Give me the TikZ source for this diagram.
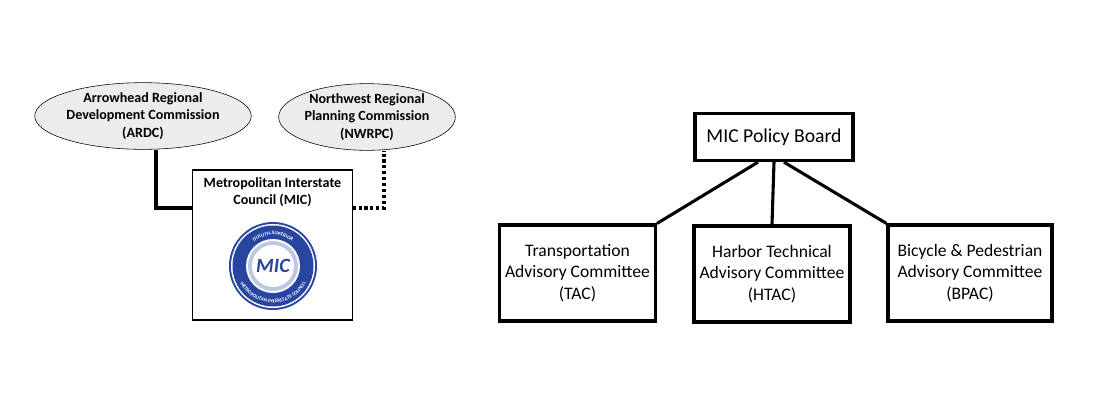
\documentclass[tikz,border=0pt]{standalone}
\usepackage{fontspec}
\setmainfont{Carlito}
\usetikzlibrary{positioning, shapes.geometric, decorations.text}

\definecolor{micblue}{RGB}{40,70,160}
\definecolor{ovalgray}{RGB}{236,236,236}

\begin{document}
\begin{tikzpicture}[x=0.025cm, y=-0.025cm,
    agency/.style={ellipse, draw, fill=ovalgray, minimum width=4.15cm, minimum height=1.45cm,
        inner sep=0, align=center, font=\fontsize{10}{12.5}\selectfont\bfseries},
    council/.style={draw, thick, minimum width=3.98cm, minimum height=3.75cm},
    board/.style={draw, line width=2.2pt, minimum width=3.95cm, minimum height=1.18cm,
        font=\fontsize{14}{16}\selectfont},
    cmte/.style={draw, line width=2.2pt, minimum height=2.4cm, align=center,
        font=\fontsize{12.5}{15.5}\selectfont},
    sealtext/.style={decorate, decoration={text along path, text align=center,
        text={|\fontsize{3.6}{4}\selectfont\bfseries\color{white}|#1}}},
    link/.style={line width=2.2pt}
]
\useasboundingbox (0,0) rectangle (1120,416);

%% Left: MIC and its two regional commissions
\node[agency] (ardc) at (143,116) {Arrowhead Regional\\Development Commission\\(ARDC)};
\node[agency] (nwrpc) at (367,117) {Northwest Regional\\Planning Commission\\(NWRPC)};
\node[council] (mic) at (272.5,245) {};
\node[align=center, font=\fontsize{10}{12.5}\selectfont\bfseries, below=2pt of mic.north] (mictext)
    {Metropolitan Interstate\\Council (MIC)};

% Seal
\coordinate (seal) at (273,266);
\fill[micblue] (seal) circle (44);
\fill[white] (seal) circle (42);
\fill[micblue] (seal) circle (40.5);
\fill[white] (seal) circle (27);
\fill[micblue!30] (seal) circle (25);
\fill[white] (seal) circle (21);
\begin{scope}[shift={(seal)}, x=0.025cm, y=0.025cm]
\path[sealtext=DULUTH-SUPERIOR] (150:31) arc[start angle=150, end angle=30, radius=31];
\path[sealtext=METROPOLITAN INTERSTATE COUNCIL] (168:37) arc[start angle=168, end angle=372, radius=37];
\end{scope}
\node[font=\Large\bfseries\itshape, text=micblue] (miclogo) at (seal) {MIC};

\coordinate (ardcbend) at (156,208);
\coordinate (nwrpcbend) at (384,208);
\draw[link] (ardc.south -| ardcbend) -- (ardcbend) -- (ardcbend -| mic.west);
\draw[link, dotted] (nwrpcbend -| mic.east) -- (nwrpcbend) -- (nwrpc.south -| nwrpcbend);

%% Right: policy board and committees
\node[board] (pb) at (774,137) {MIC Policy Board};
\node[cmte, minimum width=3.9cm] (tac) at (577.5,273) {Transportation\\Advisory Committee\\(TAC)};
\node[cmte, minimum width=3.9cm] (htac) at (772,274) {Harbor Technical\\Advisory Committee\\(HTAC)};
\node[cmte, minimum width=4.1cm] (bpac) at (970,273) {Bicycle \& Pedestrian\\Advisory Committee\\(BPAC)};

\draw[link] ([xshift=-0.4cm]pb.south) -- (tac.north east);
\draw[link] (pb.south) -- (htac.north);
\draw[link] ([xshift=0.25cm]pb.south) -- (bpac.north west);
\end{tikzpicture}
\end{document}
